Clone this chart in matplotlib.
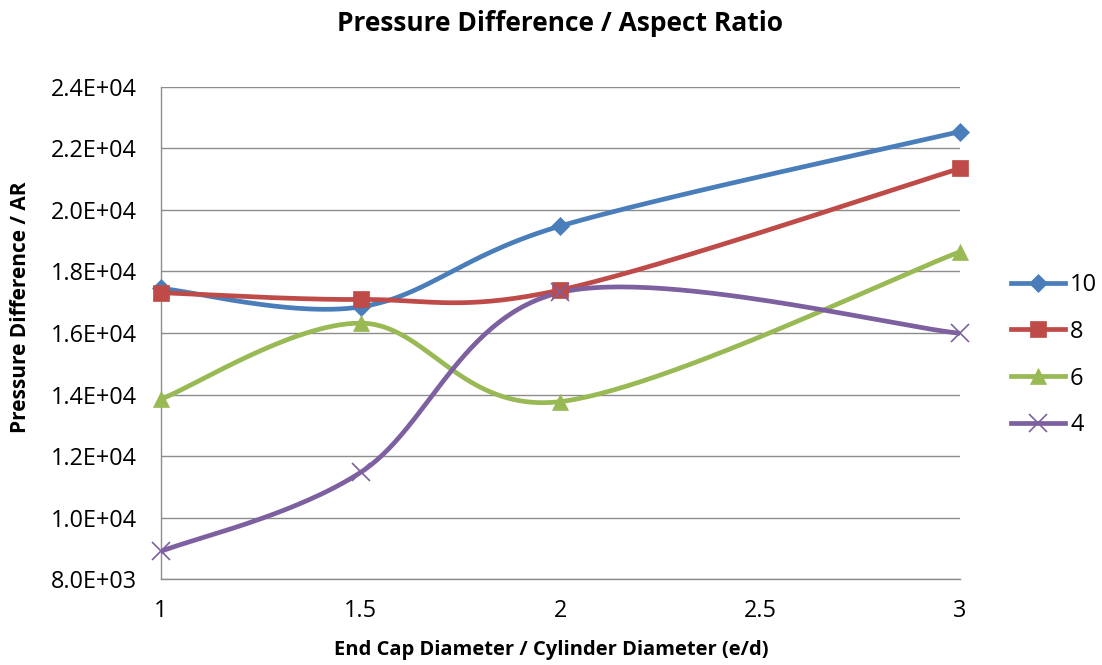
import numpy as np
import matplotlib
matplotlib.use("Agg")
import matplotlib.pyplot as plt
from matplotlib.ticker import FuncFormatter, MultipleLocator

plt.rcParams['font.family'] = ['Open Sans', 'DejaVu Sans']

# End cap diameter / cylinder diameter
ratio = [1.0, 1.5, 2.0, 3.0]

# Pressure difference per aspect ratio, one series per aspect ratio
ar10 = [17450, 16850, 19480, 22550]
ar8 = [17310, 17090, 17400, 21350]
ar6 = [13850, 16320, 13770, 18640]
ar4 = [8900, 11470, 17320, 15990]

series_names = ['10', '8', '6', '4']
series_values = [ar10, ar8, ar6, ar4]
colors = ['#4A7EBB', '#BE4B48', '#98B954', '#7D60A0']
markers = ['D', 's', '^', 'x']
marker_sizes = [9.5, 11.5, 11.5, 12.5]


def smooth(xs, ys, n=60):
    """Catmull-Rom style cubic Bezier smoothing through every point."""
    pts = np.column_stack([xs, ys]).astype(float)
    out = [pts[0]]
    m = len(pts)
    for i in range(m - 1):
        p0 = pts[i - 1] if i > 0 else pts[i]
        p1 = pts[i]
        p2 = pts[i + 1]
        p3 = pts[i + 2] if i + 2 < m else pts[i + 1]
        c1 = p1 + (p2 - p0) / 6.0
        c2 = p2 - (p3 - p1) / 6.0
        t = np.linspace(0, 1, n)[1:, None]
        seg = ((1 - t) ** 3) * p1 + 3 * ((1 - t) ** 2) * t * c1 \
            + 3 * (1 - t) * t ** 2 * c2 + t ** 3 * p2
        out.extend(seg)
    out = np.array(out)
    return out[:, 0], out[:, 1]


fig = plt.figure(figsize=(11.02, 6.65), dpi=100)
ax = fig.add_axes([0.1461, 0.1293, 0.725, 0.7399])

for name, vals, c, mk, ms in zip(series_names, series_values, colors, markers, marker_sizes):
    sx, sy = smooth(ratio, vals)
    ax.plot(sx, sy, color=c, lw=3.4, solid_capstyle='round', zorder=3)
    ax.plot(ratio, vals, linestyle='none', marker=mk, ms=ms, color=c,
            mec=c, mew=1.2 if mk == 'x' else 0.5, zorder=4, clip_on=False)
    # legend handle
    ax.plot([], [], color=c, lw=3.4, marker=mk, ms=ms, mec=c,
            mew=1.2 if mk == 'x' else 0.5, label=name)

ax.set_xlim(1, 3)
ax.set_ylim(8000, 24000)
ax.xaxis.set_major_locator(MultipleLocator(0.5))
ax.yaxis.set_major_locator(MultipleLocator(2000))
ax.xaxis.set_major_formatter(FuncFormatter(lambda v, p: f"{v:g}"))
ax.yaxis.set_major_formatter(FuncFormatter(lambda v, p: f"{v:.1E}"))

ax.grid(axis='y', color='#8C8C8C', lw=1.0)
ax.grid(axis='x', visible=False)
for side in ['top', 'right']:
    ax.spines[side].set_visible(False)
for side in ['left', 'bottom']:
    ax.spines[side].set_color('#8C8C8C')
    ax.spines[side].set_linewidth(1.0)
ax.tick_params(axis='both', labelcolor='black', labelsize=16.8, length=0)
ax.tick_params(axis='x', pad=14.5)
ax.tick_params(axis='y', pad=17.5)
ax.set_axisbelow(True)

ax.set_title('Pressure Difference / Aspect Ratio', fontsize=19, fontweight='bold', pad=40)
fig.text(0.5, 0.0226, 'End Cap Diameter / Cylinder Diameter (e/d)', fontsize=14.5,
         fontweight='bold', ha='center', va='center')
fig.text(0.0185, 0.538, 'Pressure Difference / AR', fontsize=15, fontweight='bold',
         rotation=90, ha='center', va='center')

leg = ax.legend(loc='center left', bbox_to_anchor=(1.064, 0.455), frameon=False,
                fontsize=17, handlelength=2.3, labelspacing=0.97, handletextpad=0.2,
                borderpad=0, borderaxespad=0)

fig.savefig('out.png', dpi=100)
